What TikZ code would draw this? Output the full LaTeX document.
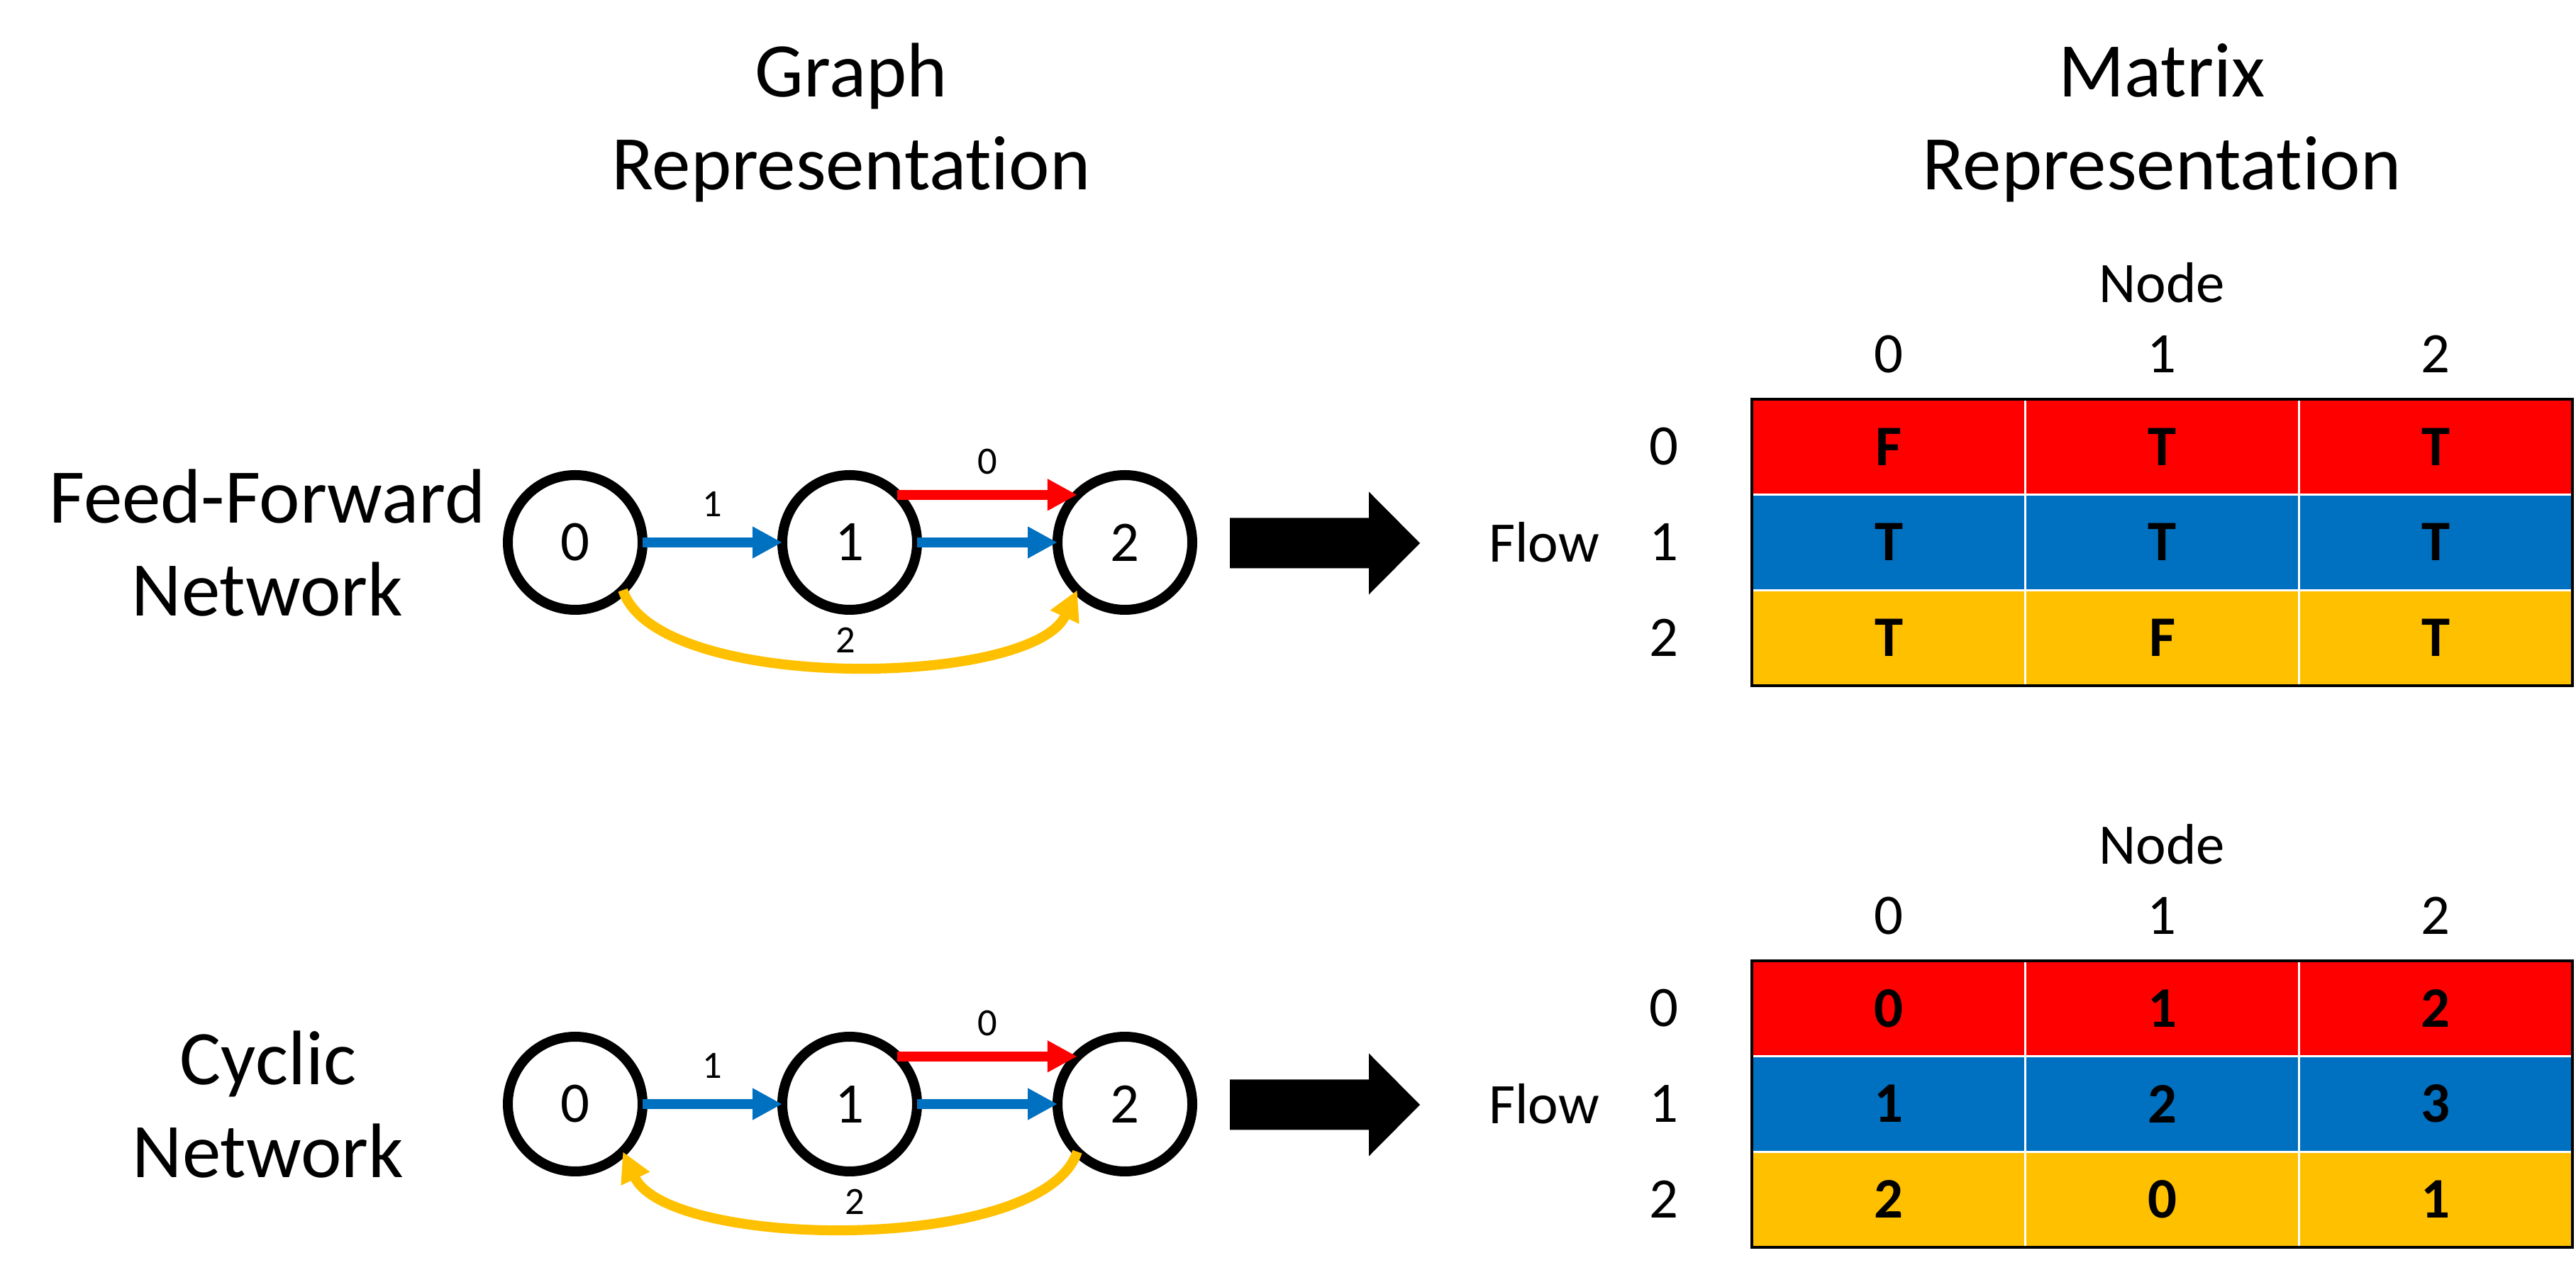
\documentclass[tikz,border=0pt]{standalone}
\usepackage{fontspec}
\setmainfont{Carlito}[Ligatures=CommonOff]
\usetikzlibrary{arrows.meta,positioning}

\definecolor{flowred}{HTML}{FF0000}
\definecolor{flowblue}{HTML}{0070C0}
\definecolor{flowyellow}{HTML}{FFC000}

\newcommand{\titlefont}{\fontsize{31}{37.3}\selectfont}
\newcommand{\labelfont}{\fontsize{23}{27.6}\selectfont}
\newcommand{\edgefont}{\fontsize{15.5}{18.6}\selectfont}

\tikzset{
	netnode/.style={circle, draw, line width=0.14cm, minimum size=1.9cm, inner sep=0pt, outer sep=0pt, font=\labelfont},
	flowedge/.style={line width=0.14cm, -{Triangle[length=0.42cm,width=0.42cm]}},
	edgelabel/.style={inner sep=0pt, font=\edgefont},
	bigtext/.style={align=center, font=\titlefont, inner sep=0pt, anchor=base},
	hdr/.style={font=\labelfont, inner sep=0pt},
	cell/.style={font=\labelfont\bfseries, inner sep=0pt},
	gridline/.style={white, line width=0.035cm},
}

\begin{document}
\begin{tikzpicture}
		\useasboundingbox (0,0) rectangle (36.32,17.90);

		%titles (base = last line)
		\node[bigtext] (graphtitle) at (12.00,15.22) {Graph\\Representation};
		\node[bigtext] (matrixtitle) at (30.48,15.22) {Matrix\\Representation};

		%feed-forward network
		\node[bigtext] (fftitle) at (3.77,9.21) {Feed-Forward\\Network};
		\node[netnode] (ff0) at (8.11,10.25) {0};
		\node[netnode] (ff1) at (11.98,10.25) {1};
		\node[netnode] (ff2) at (15.86,10.25) {2};
		\draw[flowedge, flowblue] (ff0) -- node[edgelabel, midway, above=0.29cm, black] (ffl1) {1} (ff1);
		\draw[flowedge, flowred] (ff1.45) -- node[edgelabel, midway, above=0.22cm, black] (ffl0) {0} (ff2.135);
		\draw[flowedge, flowblue] (ff1) -- (ff2);
		\draw[flowedge, flowyellow] (ff0.-45) to[out=-72, in=-115, looseness=0.61]
			node[edgelabel, midway, above=0.11cm, black] (ffl2) {2} (ff2.-135);

		\fill (17.34,10.595) -- ++(1.96,0) -- ++(0,0.37) -- (20.02,10.24) -- (19.30,9.515) -- ++(0,0.37) -- (17.34,9.885) -- cycle;

		%feed-forward matrix
		\node[hdr, anchor=base] (ffnode) at (30.48,13.63) {Node};
		\node[hdr, anchor=base] (ffcol0) at (26.63,12.64) {0};
		\node[hdr, anchor=base] (ffcol1) at (30.48,12.64) {1};
		\node[hdr, anchor=base] (ffcol2) at (34.34,12.64) {2};
		\node[hdr] (ffflow) at (21.77,10.25) {Flow};
		\foreach \rowcol/\r/\vals in {flowred/0/{F,T,T}, flowblue/1/{T,T,T}, flowyellow/2/{T,F,T}} {
			\fill[\rowcol] (24.70,12.27-1.3467*\r) rectangle (36.27,12.27-1.3467*\r-1.3467);
			\node[hdr] (ffrow\r) at (23.46,11.60-1.3467*\r) {\r};
			\foreach \v [count=\c from 0] in \vals {
				\node[cell] (ffcell\r\c) at (26.63+3.857*\c,11.60-1.3467*\r) {\v};
			}
		}
		\draw[gridline] (28.557,12.27) -- (28.557,8.23);
		\draw[gridline] (32.414,12.27) -- (32.414,8.23);
		\draw[gridline] (24.70,10.923) -- (36.27,10.923);
		\draw[gridline] (24.70,9.577) -- (36.27,9.577);
		\draw[line width=0.045cm] (24.70,8.23) rectangle (36.27,12.27);

		%cyclic network
		\node[bigtext] (cytitle) at (3.78,1.29) {Cyclic\\Network};
		\node[netnode] (cy0) at (8.11,2.33) {0};
		\node[netnode] (cy1) at (11.98,2.33) {1};
		\node[netnode] (cy2) at (15.86,2.33) {2};
		\draw[flowedge, flowblue] (cy0) -- node[edgelabel, midway, above=0.29cm, black] (cyl1) {1} (cy1);
		\draw[flowedge, flowred] (cy1.45) -- node[edgelabel, midway, above=0.22cm, black] (cyl0) {0} (cy2.135);
		\draw[flowedge, flowblue] (cy1) -- (cy2);
		\draw[flowedge, flowyellow] (cy2.-135) to[out=-108, in=-65, looseness=0.61]
			node[edgelabel, midway, above=0.11cm, black] (cyl2) {2} (cy0.-45);

		\fill (17.34,2.675) -- ++(1.96,0) -- ++(0,0.37) -- (20.02,2.32) -- (19.30,1.595) -- ++(0,0.37) -- (17.34,1.965) -- cycle;

		%cyclic matrix
		\node[hdr, anchor=base] (cynode) at (30.48,5.71) {Node};
		\node[hdr, anchor=base] (cycol0) at (26.63,4.72) {0};
		\node[hdr, anchor=base] (cycol1) at (30.48,4.72) {1};
		\node[hdr, anchor=base] (cycol2) at (34.34,4.72) {2};
		\node[hdr] (cyflow) at (21.77,2.33) {Flow};
		\foreach \rowcol/\r/\vals in {flowred/0/{0,1,2}, flowblue/1/{1,2,3}, flowyellow/2/{2,0,1}} {
			\fill[\rowcol] (24.70,4.35-1.3467*\r) rectangle (36.27,4.35-1.3467*\r-1.3467);
			\node[hdr] (cyrow\r) at (23.46,3.68-1.3467*\r) {\r};
			\foreach \v [count=\c from 0] in \vals {
				\node[cell] (cycell\r\c) at (26.63+3.857*\c,3.68-1.3467*\r) {\v};
			}
		}
		\draw[gridline] (28.557,4.35) -- (28.557,0.31);
		\draw[gridline] (32.414,4.35) -- (32.414,0.31);
		\draw[gridline] (24.70,3.003) -- (36.27,3.003);
		\draw[gridline] (24.70,1.657) -- (36.27,1.657);
		\draw[line width=0.045cm] (24.70,0.31) rectangle (36.27,4.35);

	\end{tikzpicture}
\end{document}
